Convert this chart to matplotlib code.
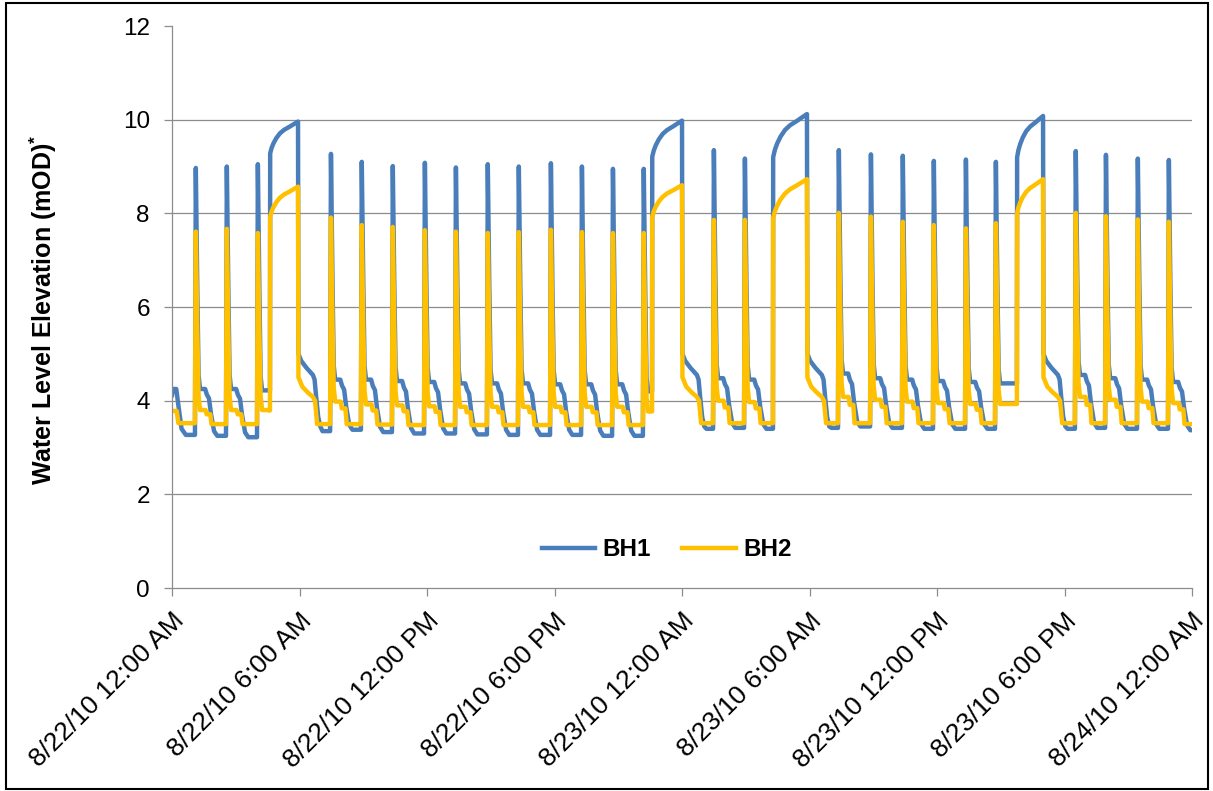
import numpy as np
import matplotlib.pyplot as plt
from matplotlib.patches import Rectangle

plt.rcParams['font.family'] = ['Liberation Sans', 'DejaVu Sans']
plt.rcParams['mathtext.default'] = 'regular'

# time in hours after 8/22/10 12:00 AM
x_ticks = [0, 6, 12, 18, 24, 30, 36, 42, 48]
x_labels = ['8/22/10 12:00 AM', '8/22/10 6:00 AM', '8/22/10 12:00 PM', '8/22/10 6:00 PM',
            '8/23/10 12:00 AM', '8/23/10 6:00 AM', '8/23/10 12:00 PM', '8/23/10 6:00 PM',
            '8/24/10 12:00 AM']
y_ticks = [0, 2, 4, 6, 8, 10, 12]

# short pumping spikes
spike_hr = [1.08, 2.54, 4.00, 7.44, 8.89, 10.35, 11.86, 13.32, 14.82, 16.28, 17.79, 19.25, 20.71,
            22.16, 25.46, 26.92, 31.34, 32.85, 34.35, 35.81, 37.32, 38.73, 42.49, 43.91, 45.41, 46.87]
bh1_peak = [8.97, 9.00, 9.05, 9.27, 9.10, 9.01, 9.08, 8.98, 9.05, 9.00, 9.07, 9.00, 8.95,
            8.95, 9.35, 9.17, 9.35, 9.26, 9.23, 9.12, 9.15, 9.10, 9.33, 9.25, 9.17, 9.14]
bh2_peak = [7.61, 7.67, 7.58, 7.91, 7.75, 7.71, 7.64, 7.61, 7.58, 7.60, 7.65, 7.60, 7.58,
            7.58, 7.86, 7.86, 8.01, 7.93, 7.82, 7.75, 7.68, 7.79, 8.01, 7.94, 7.87, 7.82]
# level just after each spike, and the level it settles to before the next event
bh1_hi = [4.25, 4.25, 4.22, 4.45, 4.45, 4.42, 4.40, 4.37, 4.37, 4.37, 4.35, 4.35, 4.35,
          4.20, 4.48, 4.45, 4.58, 4.48, 4.45, 4.42, 4.40, 4.37, 4.55, 4.48, 4.45, 4.40]
bh1_lo = [3.25, 3.22, 4.20, 3.38, 3.33, 3.30, 3.30, 3.28, 3.27, 3.27, 3.27, 3.25, 3.25,
          4.18, 3.42, 3.40, 3.45, 3.42, 3.40, 3.40, 3.40, 4.37, 3.42, 3.40, 3.40, 3.37]
bh2_hi = [3.80, 3.80, 3.80, 3.98, 3.92, 3.90, 3.88, 3.87, 3.87, 3.87, 3.87, 3.87, 3.87,
          3.77, 4.00, 3.97, 4.08, 4.02, 3.98, 3.95, 3.93, 3.93, 4.08, 4.02, 3.98, 3.95]
bh2_lo = [3.50, 3.50, 3.77, 3.50, 3.49, 3.48, 3.48, 3.48, 3.48, 3.48, 3.48, 3.48, 3.48,
          3.77, 3.52, 3.52, 3.52, 3.52, 3.52, 3.52, 3.52, 3.93, 3.52, 3.52, 3.52, 3.50]

# long pumping runs
plat_start = [4.61, 22.59, 28.28, 39.76]
plat_end = [5.93, 24.00, 29.88, 40.99]
bh1_plat_from = [9.28, 9.21, 9.20, 9.20]
bh1_plat_to = [9.96, 9.98, 10.12, 10.08]
bh2_plat_from = [7.93, 7.93, 7.90, 8.00]
bh2_plat_to = [8.57, 8.60, 8.73, 8.73]
bh1_plat_lo = [3.35, 3.40, 3.42, 3.40]
bh2_plat_lo = [3.50, 3.52, 3.52, 3.52]

# recovery after a long run (hours after the pump stops, level)
bh1_tail_dt = [0.02, 0.15, 0.40, 0.70, 0.78, 0.85, 0.95, 1.05]
bh1_tail_val = [5.00, 4.85, 4.70, 4.55, 4.45, 4.10, 3.65, 3.45]
bh2_tail_dt = [0.02, 0.20, 0.45, 0.70, 0.80]
bh2_tail_val = [4.50, 4.30, 4.18, 4.08, 4.00]

# start of the record
bh1_start_hr = [0.0, 0.05, 0.2, 0.3, 0.45, 0.65]
bh1_start = [4.12, 4.25, 4.25, 3.90, 3.40, 3.27]
bh2_start_hr = [0.0, 0.22, 0.30]
bh2_start = [3.78, 3.78, 3.52]

# shape of one short cycle: (hours after spike, fraction between lo and hi)
bh1_cycle = dict(dt=[0.48, 0.56, 0.66, 0.76, 0.90, 1.05], f=[1.0, 0.88, 0.80, 0.45, 0.10, 0.0])
bh2_cycle = dict(dt=[0.50, 0.55, 0.72, 0.78], f=[1.0, 0.70, 0.70, 0.0])
plat_frac = [0.0, 0.05, 0.12, 0.22, 0.35, 0.5, 0.7, 0.85, 1.0]
plat_w = [0.0, 0.17, 0.32, 0.48, 0.63, 0.74, 0.84, 0.92, 1.0]


def build(start_hr, start_v, peak, hi, lo, pfrom, pto, plo, tail_dt, tail_v, cyc):
    t = list(start_hr)
    v = list(start_v)
    events = [(s, 's', i) for i, s in enumerate(spike_hr)] + [(s, 'p', j) for j, s in enumerate(plat_start)]
    events.sort()
    for n, (t0, kind, k) in enumerate(events):
        tn = events[n + 1][0] if n + 1 < len(events) else 48.3
        t.append(t0)
        v.append(v[-1])
        if kind == 's':
            t += [t0 + 0.04, t0 + 0.11, t0 + 0.17, t0 + 0.24]
            v += [peak[k], hi[k] + 0.45 * (peak[k] - hi[k]), hi[k] + 0.3, hi[k]]
            for dt, f in zip(cyc['dt'], cyc['f']):
                if t0 + dt < tn - 0.02:
                    t.append(t0 + dt)
                    v.append(lo[k] + f * (hi[k] - lo[k]))
        else:
            te = plat_end[k]
            for fr, w in zip(plat_frac, plat_w):
                t.append(t0 + 0.01 + fr * (te - t0 - 0.01))
                v.append(pfrom[k] + w * (pto[k] - pfrom[k]))
            for dt, val in zip(tail_dt, tail_v):
                t.append(te + dt)
                v.append(val)
            t.append(te + tail_dt[-1] + 0.1)
            v.append(plo[k])
    t.append(48.3)
    v.append(v[-1])
    return np.array(t), np.array(v)


t1, bh1 = build(bh1_start_hr, bh1_start, bh1_peak, bh1_hi, bh1_lo, bh1_plat_from, bh1_plat_to,
                bh1_plat_lo, bh1_tail_dt, bh1_tail_val, bh1_cycle)
t2, bh2 = build(bh2_start_hr, bh2_start, bh2_peak, bh2_hi, bh2_lo, bh2_plat_from, bh2_plat_to,
                bh2_plat_lo, bh2_tail_dt, bh2_tail_val, bh2_cycle)

fig = plt.figure(figsize=(12.13, 7.91), dpi=100)
ax = fig.add_axes([0.1418, 0.2566, 0.8409, 0.7105])

ax.plot(t1, bh1, color='#4A7EBB', lw=3.2, label='BH1', solid_joinstyle='round')
ax.plot(t2, bh2, color='#FFC000', lw=3.2, label='BH2', solid_joinstyle='round')

ax.set_xlim(0, 48)
ax.set_ylim(0, 12)
ax.set_yticks(y_ticks)
ax.set_yticklabels([str(y) for y in y_ticks], fontsize=17.5)
ax.set_xticks(x_ticks)
ax.set_xticklabels(x_labels, fontsize=19, rotation=45, ha='right', va='top',
                   rotation_mode='anchor')

for y in y_ticks[1:-1]:
    ax.axhline(y, color='#8C8C8C', lw=0.9, zorder=0)

for s in ['top', 'right']:
    ax.spines[s].set_visible(False)
for s in ['left', 'bottom']:
    ax.spines[s].set_color('#8C8C8C')
    ax.spines[s].set_linewidth(0.9)
ax.tick_params(axis='both', color='#8C8C8C', length=6, width=0.9, direction='out')
ax.tick_params(axis='y', pad=10)
ax.tick_params(axis='x', pad=9)

ax.set_ylabel('Water Level Elevation (mOD)$^{*}$', fontsize=18, fontweight='bold')
ax.yaxis.set_label_coords(-0.111, 0.495)

ax.legend(loc='center', bbox_to_anchor=(0.485, 0.068), ncol=2, frameon=False,
          prop={'size': 17.5, 'weight': 'bold'}, handlelength=2.2, handletextpad=0.3,
          columnspacing=1.3)

fig.patches.append(Rectangle((6 / 1213, 2 / 791), 1202 / 1213, 786 / 791, transform=fig.transFigure,
                             fill=False, edgecolor='black', lw=1.5))

fig.savefig('out.png', dpi=100)
